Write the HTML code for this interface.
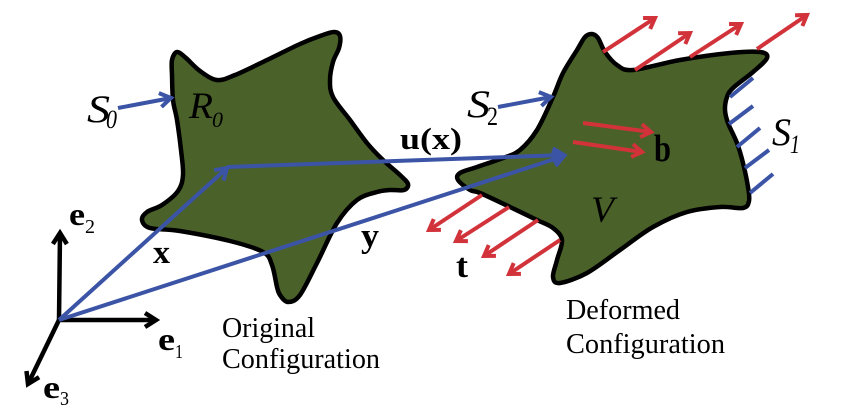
<!DOCTYPE html>
<html><head><meta charset="utf-8"><style>
html,body{margin:0;padding:0;background:#fff;}
svg{display:block;}
text{font-family:"Liberation Serif",serif;fill:#000;}
.b{font-weight:bold;}
.i{font-style:italic;}
</style></head><body>
<svg width="843" height="418" viewBox="0 0 843 418" xmlns="http://www.w3.org/2000/svg">
<defs>
<marker id="hb" markerUnits="userSpaceOnUse" orient="auto" markerWidth="30" markerHeight="30" viewBox="-15 -15 30 30" refX="0" refY="0" style="overflow:visible"><path d="M-11,-7 L0,0 L-11,7" fill="none" stroke="#3b54a6" stroke-width="4"/></marker>
<marker id="hr" markerUnits="userSpaceOnUse" orient="auto" markerWidth="30" markerHeight="30" viewBox="-15 -15 30 30" refX="0" refY="0" style="overflow:visible"><path d="M-10,-6.5 L0,0 L-10,6.5" fill="none" stroke="#d2323a" stroke-width="4"/></marker>
<marker id="hk" markerUnits="userSpaceOnUse" orient="auto" markerWidth="30" markerHeight="30" viewBox="-15 -15 30 30" refX="0" refY="0" style="overflow:visible"><path d="M-11,-7 L0,0 L-11,7" fill="none" stroke="#000" stroke-width="4.5"/></marker>
</defs>

<!-- Original shape -->
<polygon id="s1" points="177,52 186,58 200,71 217,80 235,75 267,60 300,44 320,36 334,32 340,36 339,48 333,62 330,80 333,97 350,120 367,143 383,160 400,175 408,184 404,190 390,190 377,192 357,200 337,223 317,263 300,295 288,302 280,295 277,287 272,265 263,252 230,241 180,231 150,228 142,220 147,212 162,205 178,191 183,175 181,150 177,120 173,100 172,75 172,60" fill="#4a6229" stroke="#000" stroke-width="4.5" stroke-linejoin="round"/>

<!-- Deformed shape -->
<polygon id="s2" points="592,34 598,38 605,52 617,65 633,70 680,60 730,53 760,52 767,58 753,72 733,88 727,97 725,110 728,123 737,143 743,163 748,187 749,201 743,208 720,207 687,212 653,227 620,250 587,273 560,283 553,277 557,260 562,240 553,228 537,220 510,207 480,193 470,190 458,180 460,173 477,167 503,158 520,150 537,130 553,97 563,73 577,50 585,37" fill="#4a6229" stroke="#000" stroke-width="4.5" stroke-linejoin="round"/>

<!-- axes -->
<g stroke="#000" stroke-width="4.5" fill="none">
<line x1="59" y1="320" x2="60" y2="233" marker-end="url(#hk)"/>
<line x1="59" y1="320" x2="156" y2="320" marker-end="url(#hk)"/>
<line x1="59" y1="320" x2="28" y2="384" marker-end="url(#hk)"/>
</g>

<!-- blue vectors -->
<g stroke="#3b54a6" stroke-width="4" fill="none">
<line x1="59" y1="320" x2="227" y2="168" marker-end="url(#hb)"/>
<line x1="227" y1="167" x2="564" y2="155" marker-end="url(#hb)"/>
<line x1="59" y1="320" x2="564" y2="156" marker-end="url(#hb)"/>
<line x1="118" y1="108" x2="171" y2="98" marker-end="url(#hb)"/>
<line x1="498" y1="107" x2="551" y2="97" marker-end="url(#hb)"/>
<line x1="730" y1="97" x2="753" y2="78"/>
<line x1="729" y1="124" x2="753" y2="106"/>
<line x1="737" y1="147" x2="760" y2="128"/>
<line x1="745" y1="168" x2="769" y2="150"/>
<line x1="750" y1="193" x2="773" y2="174"/>
</g>

<!-- red arrows -->
<g stroke="#d2323a" stroke-width="4" fill="none">
<line x1="603" y1="52" x2="655" y2="18" marker-end="url(#hr)"/>
<line x1="635" y1="70" x2="690" y2="33" marker-end="url(#hr)"/>
<line x1="690" y1="57" x2="741" y2="24" marker-end="url(#hr)"/>
<line x1="757" y1="49" x2="807" y2="15" marker-end="url(#hr)"/>
<line x1="583" y1="123" x2="651" y2="132" marker-end="url(#hr)"/>
<line x1="573" y1="142" x2="642" y2="152" marker-end="url(#hr)"/>
<line x1="482" y1="195" x2="429" y2="230" marker-end="url(#hr)"/>
<line x1="509" y1="207" x2="456" y2="241" marker-end="url(#hr)"/>
<line x1="538" y1="220" x2="484" y2="256" marker-end="url(#hr)"/>
<line x1="560" y1="240" x2="509" y2="274" marker-end="url(#hr)"/>
</g>

<!-- labels -->
<text class="i" x="87" y="122" font-size="39" textLength="23" lengthAdjust="spacingAndGlyphs">S</text>
<text class="i" x="106" y="128" font-size="26" textLength="11" lengthAdjust="spacingAndGlyphs">0</text>
<text class="i" x="189" y="118" font-size="37" textLength="24" lengthAdjust="spacingAndGlyphs">R</text>
<text class="i" x="212" y="127" font-size="22" textLength="11" lengthAdjust="spacingAndGlyphs">0</text>
<text class="i" x="467" y="117" font-size="39" textLength="23" lengthAdjust="spacingAndGlyphs">S</text>
<text x="487" y="125" font-size="26" textLength="11" lengthAdjust="spacingAndGlyphs">2</text>
<text class="i" x="772" y="145" font-size="39" textLength="19" lengthAdjust="spacingAndGlyphs">S</text>
<text class="i" x="790" y="153" font-size="26" textLength="10" lengthAdjust="spacingAndGlyphs">1</text>
<text class="i" x="591" y="222" font-size="37" textLength="23" lengthAdjust="spacingAndGlyphs">V</text>

<text class="b" x="400" y="149" font-size="31" textLength="62" lengthAdjust="spacingAndGlyphs">u(x)</text>
<text class="b" x="654" y="161" font-size="38" textLength="17" lengthAdjust="spacingAndGlyphs">b</text>
<text class="b" x="153" y="263" font-size="33" textLength="17" lengthAdjust="spacingAndGlyphs">x</text>
<text class="b" x="361" y="247" font-size="34" textLength="18" lengthAdjust="spacingAndGlyphs">y</text>
<text class="b" x="456" y="277" font-size="34" textLength="12" lengthAdjust="spacingAndGlyphs">t</text>

<text class="b" x="69" y="225" font-size="32" textLength="16" lengthAdjust="spacingAndGlyphs">e</text>
<text x="85" y="233" font-size="20" textLength="10" lengthAdjust="spacingAndGlyphs">2</text>
<text class="b" x="158" y="350" font-size="32" textLength="17" lengthAdjust="spacingAndGlyphs">e</text>
<text x="175" y="358" font-size="20" textLength="8" lengthAdjust="spacingAndGlyphs">1</text>
<text class="b" x="43" y="398" font-size="32" textLength="17" lengthAdjust="spacingAndGlyphs">e</text>
<text x="60" y="405" font-size="20" textLength="9" lengthAdjust="spacingAndGlyphs">3</text>

<text x="222" y="337" font-size="28" textLength="93" lengthAdjust="spacingAndGlyphs">Original</text>
<text x="222" y="368" font-size="28" textLength="158" lengthAdjust="spacingAndGlyphs">Configuration</text>
<text x="566" y="319" font-size="28" textLength="114" lengthAdjust="spacingAndGlyphs">Deformed</text>
<text x="566" y="353" font-size="28" textLength="159" lengthAdjust="spacingAndGlyphs">Configuration</text>
</svg>
<script>
(function(){
  var NS="http://www.w3.org/2000/svg";
  ["s1","s2"].forEach(function(id){
    var poly=document.getElementById(id);
    if(!poly) return;
    var nums=poly.getAttribute("points").trim().split(/[\s,]+/).map(Number);
    var p=[];for(var i=0;i<nums.length;i+=2)p.push([nums[i],nums[i+1]]);
    var n=p.length,d="M"+p[0][0]+","+p[0][1];
    for(var i=0;i<n;i++){
      var p0=p[(i-1+n)%n],p1=p[i],p2=p[(i+1)%n],p3=p[(i+2)%n];
      var c1=[p1[0]+(p2[0]-p0[0])/6,p1[1]+(p2[1]-p0[1])/6];
      var c2=[p2[0]-(p3[0]-p1[0])/6,p2[1]-(p3[1]-p1[1])/6];
      d+=" C"+c1[0].toFixed(1)+","+c1[1].toFixed(1)+" "+c2[0].toFixed(1)+","+c2[1].toFixed(1)+" "+p2[0]+","+p2[1];
    }
    d+="Z";
    var path=document.createElementNS(NS,"path");
    path.setAttribute("d",d);
    ["fill","stroke","stroke-width","stroke-linejoin"].forEach(function(a){path.setAttribute(a,poly.getAttribute(a));});
    poly.parentNode.replaceChild(path,poly);
  });
})();
</script>
</body></html>
